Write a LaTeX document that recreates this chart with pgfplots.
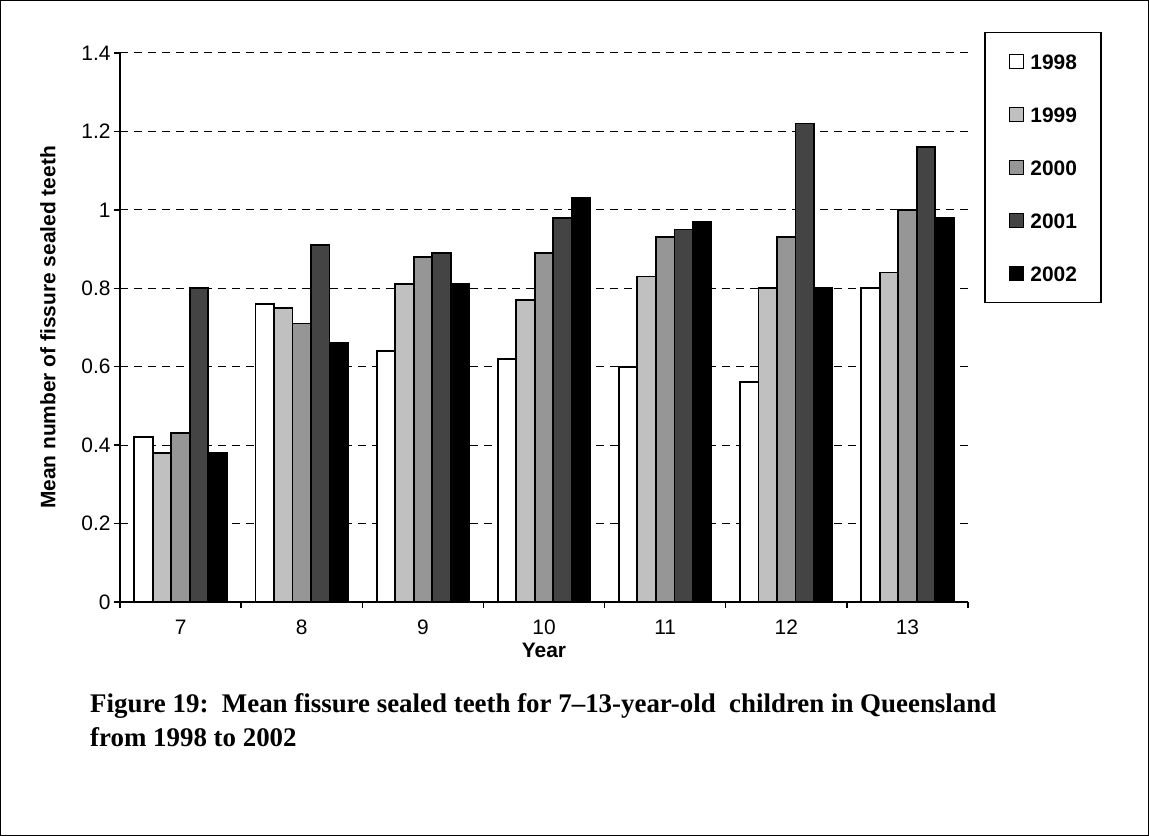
\documentclass[border=0pt]{standalone}
\usepackage{fontspec}
\setmainfont{Liberation Sans}
\newfontfamily\capfont{Liberation Serif}
\usepackage{pgfplots}
\pgfplotsset{compat=1.18}
\definecolor{cA}{RGB}{255,255,255}
\definecolor{cB}{RGB}{192,192,192}
\definecolor{cC}{RGB}{150,150,150}
\definecolor{cD}{RGB}{68,68,68}
\definecolor{cE}{RGB}{0,0,0}
\pgfplotsset{sq/.style={fill=#1, draw=black, line width=1.8bp,
  legend image code/.code={\draw[black, line width=1.6bp, fill=#1] (0bp,-7bp) rectangle (14bp,7bp);}}}
\begin{document}
\begin{tikzpicture}[x=1bp,y=1bp]
\useasboundingbox (0,0) rectangle (1149,836);
\draw[line width=1.2bp] (0.6,0.6) rectangle (1148.4,835.4);
\begin{axis}[
  at={(120bp,234bp)}, anchor=south west,
  width=848bp, height=549bp, scale only axis,
  xmin=0.5, xmax=7.5, ymin=0, ymax=1.4,
  ytick={0,0.2,0.4,0.6,0.8,1,1.2,1.4},
  xtick={0.5,1.5,2.5,3.5,4.5,5.5,6.5,7.5},
  xticklabels={,,,,,,,},
  extra x ticks={1,2,3,4,5,6,7},
  extra x tick labels={7,8,9,10,11,12,13},
  extra x tick style={major tick length=0pt},
  axis x line*=bottom, axis y line*=left,
  axis line style={-, line width=1.5bp},
  tick align=outside, major tick length=6bp,
  tick style={black, line width=1.5bp},
  ymajorgrids,
  major grid style={black, line width=1bp, dash pattern=on 8bp off 6bp},
  /pgf/number format/assume math mode=true,
  ticklabel style={font=\fontsize{21}{25}\selectfont},
  xticklabel style={yshift=-14bp, text height=15bp, text depth=0bp},
  xlabel={Year},
  ylabel={Mean number of fissure sealed teeth},
  label style={font=\bfseries\fontsize{21}{25}\selectfont},
  xlabel style={at={(axis description cs:0.5,-0.089)}, anchor=center},
  ylabel style={at={(axis description cs:-0.0849,0.5)}, anchor=center},
  ybar=0pt, bar width=18.5bp,
  legend style={at={(1.01887,1.0383)}, anchor=north west, draw=black, line width=1.5bp,
    font=\bfseries\fontsize{21}{25}\selectfont,
    inner xsep=24bp, inner ysep=21bp, row sep=37.4bp,
    nodes={inner sep=0pt, text height=15bp, text depth=0bp},
    /tikz/every odd column/.append style={column sep=6bp}},
  legend cell align=left,
]
\addplot[sq=cA] coordinates {(1,0.42) (2,0.76) (3,0.64) (4,0.62) (5,0.60) (6,0.56) (7,0.80)};
\addplot[sq=cB] coordinates {(1,0.38) (2,0.75) (3,0.81) (4,0.77) (5,0.83) (6,0.80) (7,0.84)};
\addplot[sq=cC] coordinates {(1,0.43) (2,0.71) (3,0.88) (4,0.89) (5,0.93) (6,0.93) (7,1.00)};
\addplot[sq=cD] coordinates {(1,0.80) (2,0.91) (3,0.89) (4,0.98) (5,0.95) (6,1.22) (7,1.16)};
\addplot[sq=cE] coordinates {(1,0.38) (2,0.66) (3,0.81) (4,1.03) (5,0.97) (6,0.80) (7,0.98)};
\legend{1998,1999,2000,2001,2002}
\end{axis}
\node[anchor=base west, inner sep=0pt, font=\capfont\bfseries\fontsize{27}{32}\selectfont] at (90,123) {Figure 19:\ \ Mean fissure sealed teeth for 7–13-year-old\ \ children in Queensland};
\node[anchor=base west, inner sep=0pt, font=\capfont\bfseries\fontsize{27}{32}\selectfont] at (90,89) {from 1998 to 2002};
\end{tikzpicture}
\end{document}
